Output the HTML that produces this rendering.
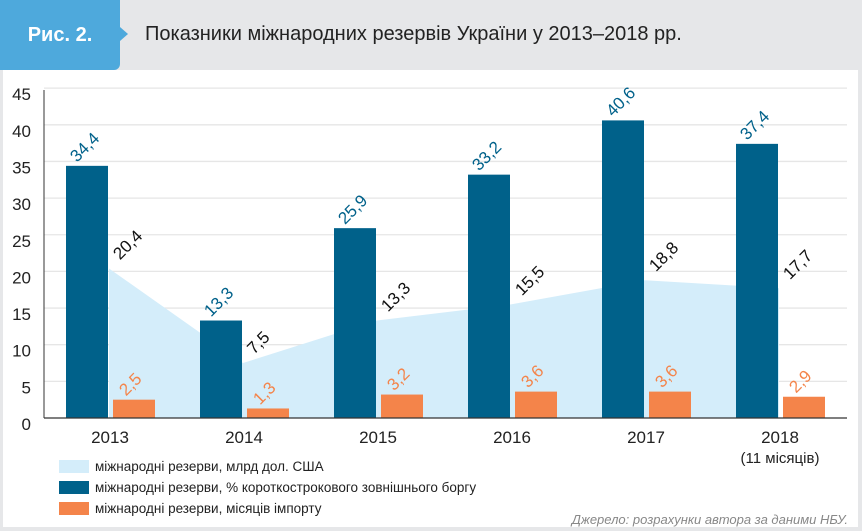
<!DOCTYPE html>
<html><head><meta charset="utf-8">
<style>
html,body{margin:0;padding:0;background:#fff;}
body{width:862px;height:531px;overflow:hidden;position:relative;font-family:"Liberation Sans",sans-serif;}
</style></head>
<body>
<div style="position:absolute;left:0;top:0;width:862px;height:70px;background:#e6e7e9;"></div>
<div style="position:absolute;left:0;top:0;width:120px;height:70px;background:#4ea9dc;border-radius:0 0 6px 0;color:#fff;font-weight:bold;font-size:20px;line-height:70px;text-align:center;">Рис. 2.</div>
<div style="position:absolute;left:120px;top:27px;width:0;height:0;border-top:7px solid transparent;border-bottom:7px solid transparent;border-left:8px solid #4ea9dc;"></div>
<div style="position:absolute;left:145px;top:23px;font-size:20px;color:#222;">Показники міжнародних резервів України у 2013–2018 рр.</div>
<div style="position:absolute;left:0;top:70px;width:3px;height:461px;background:#e6e7e9;"></div>
<div style="position:absolute;left:858px;top:70px;width:4px;height:461px;background:#e6e7e9;"></div>
<div style="position:absolute;left:0;top:527px;width:862px;height:4px;background:#e6e7e9;"></div>
<svg id="chart" width="862" height="531" style="position:absolute;left:0;top:0;" font-family="Liberation Sans, sans-serif"></svg>
<script>
const categories=["2013","2014","2015","2016","2017","2018"];
const reservesUsd=[20.4,7.5,13.3,15.5,18.8,17.7];
const reservesDebt=[34.4,13.3,25.9,33.2,40.6,37.4];
const reservesImport=[2.5,1.3,3.2,3.6,3.6,2.9];
const labelsUsd=["20,4","7,5","13,3","15,5","18,8","17,7"];
const labelsDebt=["34,4","13,3","25,9","33,2","40,6","37,4"];
const labelsImport=["2,5","1,3","3,2","3,6","3,6","2,9"];
const yTicks=[0,5,10,15,20,25,30,35,40,45];

const NS="http://www.w3.org/2000/svg";
const svg=document.getElementById('chart');
const y0=418, unit=7.33, left=44, right=847;
function y(v){return y0-v*unit;}
function gx(i){return 66+134*i;}
function mk(tag,attrs){const e=document.createElementNS(NS,tag);for(const k in attrs)e.setAttribute(k,attrs[k]);svg.appendChild(e);return e;}

yTicks.forEach((t)=>{
  if(t>0){const g=mk('line',{x1:left,x2:right,y1:y(t),y2:y(t),stroke:'#e6e6e6','stroke-width':1.3});
  
  }
  const l=mk('text',{x:31,y:y(t)+12,'text-anchor':'end','font-size':17,fill:'#222'});
  l.textContent=t;
  
  
});

let pts=[];
reservesUsd.forEach((v,i)=>pts.push((gx(i)+43)+','+y(v)));
const poly=mk('polygon',{points:(gx(0)+43)+','+y0+' '+pts.join(' ')+' '+(gx(5)+43)+','+y0,fill:'#d4edfa'});



function rlabel(x0,y0_,txt,col,name){
  const t=mk('text',{x:x0,y:y0_,'font-size':17,fill:col,transform:'rotate(-45 '+x0+' '+y0_+')'});
  t.textContent=txt;
  
  
}
categories.forEach((c,i)=>{
  const b=mk('rect',{x:gx(i),y:y(reservesDebt[i]),width:42,height:reservesDebt[i]*unit,fill:'#00618a'});
  
  
  const o=mk('rect',{x:gx(i)+47,y:y(reservesImport[i]),width:42,height:reservesImport[i]*unit,fill:'#f4844a'});
  
  
  rlabel(gx(i)+11,y(reservesDebt[i])-3,labelsDebt[i],'#00618a','label-debt-'+c);
  rlabel(gx(i)+60,y(reservesImport[i])-3,labelsImport[i],'#f4844a','label-import-'+c);
  rlabel(gx(i)+54,y(reservesUsd[i])-8,labelsUsd[i],'#111','label-usd-'+c);
  const t=mk('text',{x:gx(i)+44,y:443,'text-anchor':'middle','font-size':17,fill:'#222'});
  t.textContent=c;
  
  
});
let s=mk('text',{x:gx(5)+44,y:463,'text-anchor':'middle','font-size':15,fill:'#222'});
s.textContent='(11 місяців)';


const ax1=mk('line',{x1:left,x2:left,y1:90,y2:y0,stroke:'#333','stroke-width':1});


const ax2=mk('line',{x1:left,x2:right,y1:y0,y2:y0,stroke:'#333','stroke-width':1.3});


</script>
<div style="position:absolute;left:59px;top:456px;font-size:13.5px;color:#222;">
  <div style="height:21px;display:flex;align-items:center;"><span style="display:inline-block;width:30px;height:13px;background:#d4edfa;margin-right:6px;"></span>міжнародні резерви, млрд дол. США</div>
  <div style="height:21px;display:flex;align-items:center;"><span style="display:inline-block;width:30px;height:13px;background:#00618a;margin-right:6px;"></span>міжнародні резерви, % короткострокового зовнішнього боргу</div>
  <div style="height:21px;display:flex;align-items:center;"><span style="display:inline-block;width:30px;height:13px;background:#f4844a;margin-right:6px;"></span>міжнародні резерви, місяців імпорту</div>
</div>
<div style="position:absolute;right:14px;top:512px;font-size:13px;font-style:italic;color:#888;">Джерело: розрахунки автора за даними НБУ.</div>
</body></html>
